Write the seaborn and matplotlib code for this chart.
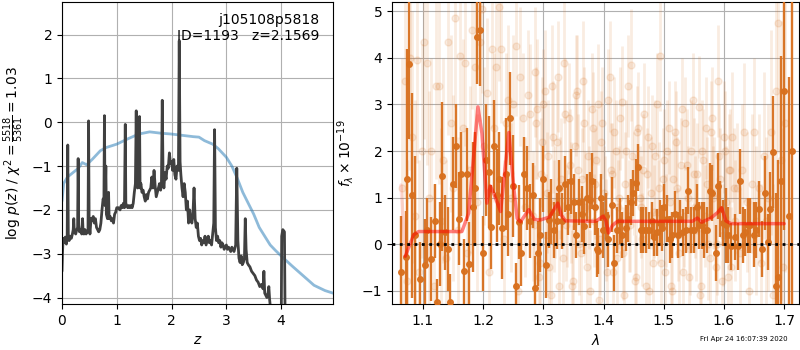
import matplotlib
matplotlib.use('Agg')
import matplotlib.pyplot as plt
import numpy as np
import seaborn as sns

# p(z) panel: redshift grid, log p(z) and scaled chi2 curve
z_pz = [0.00, 0.01, 0.02, 0.04, 0.06, 0.08, 0.095, 0.105, 0.115, 0.13, 0.15, 0.17,
        0.19, 0.205, 0.215, 0.225, 0.25, 0.27, 0.285, 0.295, 0.305, 0.32, 0.34, 0.36,
        0.375, 0.385, 0.40, 0.42, 0.44, 0.46, 0.475, 0.485, 0.495, 0.51, 0.53, 0.55,
        0.57, 0.59, 0.61, 0.63, 0.65, 0.67, 0.69, 0.71, 0.73, 0.75, 0.765, 0.775,
        0.785, 0.80, 0.81, 0.83, 0.85, 0.86, 0.88, 0.90, 0.92, 0.94, 0.96, 0.98,
        1.00, 1.03, 1.06, 1.08, 1.10, 1.12, 1.14, 1.155, 1.165, 1.18, 1.20, 1.22,
        1.24, 1.26, 1.28, 1.30, 1.32, 1.34, 1.355, 1.365, 1.38, 1.40, 1.415, 1.425,
        1.44, 1.46, 1.48, 1.50, 1.52, 1.54, 1.56, 1.58, 1.60, 1.62, 1.64, 1.66,
        1.68, 1.70, 1.72, 1.74, 1.76, 1.78, 1.80, 1.815, 1.83, 1.845, 1.86, 1.88,
        1.90, 1.92, 1.94, 1.96, 1.98, 2.00, 2.02, 2.04, 2.06, 2.08, 2.10, 2.125,
        2.14, 2.155, 2.17, 2.19, 2.21, 2.23, 2.25, 2.27, 2.29, 2.31, 2.33, 2.35,
        2.37, 2.39, 2.41, 2.43, 2.45, 2.47, 2.49, 2.51, 2.53, 2.55, 2.57, 2.59,
        2.61, 2.63, 2.65, 2.67, 2.69, 2.71, 2.73, 2.755, 2.77, 2.785, 2.80, 2.82,
        2.84, 2.86, 2.88, 2.90, 2.92, 2.94, 2.96, 2.98, 3.00, 3.02, 3.04, 3.06,
        3.08, 3.10, 3.12, 3.14, 3.17, 3.19, 3.21, 3.23, 3.25, 3.27, 3.29, 3.31,
        3.33, 3.345, 3.36, 3.38, 3.40, 3.43, 3.46, 3.49, 3.52, 3.55, 3.58, 3.61,
        3.64, 3.67, 3.685, 3.70, 3.72, 3.74, 3.76, 3.775, 3.79, 3.81, 3.85, 3.90,
        3.95, 4.00, 4.01, 4.03, 4.06, 4.075, 4.12, 4.20]
logp = [-3.40, -2.95, -2.65, -2.75, -2.62, -2.78, -2.60, -0.52, -2.55, -2.70, -2.60, -2.65,
        -2.55, -2.45, -2.20, -2.50, -2.55, -2.45, -2.40, -0.83, -2.35, -2.50, -2.45, -2.55,
        -2.20, -2.50, -2.55, -2.45, -2.55, -2.50, -2.45, 0.03, -2.30, -2.55, -2.20, -2.25,
        -2.15, -2.30, -2.20, -2.40, -2.45, -2.50, -2.45, -2.30, -2.00, -1.75, -1.80, 0.15,
        -1.90, -1.00, -2.10, -2.20, -1.60, -2.20, -2.15, -2.25, -2.20, -2.30, -2.10, -2.05,
        -1.95, -1.95, -2.00, -1.90, -1.95, -1.85, -1.95, -0.05, -1.85, -1.90, -1.95, -1.90,
        -1.95, -1.90, -1.95, -1.85, -1.60, -1.40, 0.26, -1.30, -1.50, -1.45, 0.13, -1.50,
        -1.40, -1.60, -1.55, -1.70, -1.80, -1.65, -1.75, -1.60, -1.55, -1.50, -1.25, -1.50,
        -1.10, -1.45, -1.70, -1.60, -1.50, -1.40, -1.55, -1.40, 0.50, -1.30, -1.50, -1.15,
        -1.30, -1.00, -1.05, -0.70, -0.95, -0.90, -1.10, -0.85, -1.20, -1.30, -1.00, -1.10,
        1.86, -0.90, -1.20, -1.50, -1.70, -1.40, -1.60, -2.00, -1.80, -2.30, -2.00, -2.20,
        -2.30, -2.10, -1.50, -2.20, -2.40, -2.30, -2.60, -2.70, -2.65, -2.80, -2.70, -2.75,
        -2.60, -2.80, -2.70, -2.60, -2.75, -2.70, -2.80, -2.50, -2.30, -0.17, -2.40, -2.70,
        -2.60, -2.75, -2.70, -2.85, -2.75, -2.80, -2.90, -2.85, -2.80, -2.90, -2.85, -2.90,
        -2.95, -2.85, -2.90, -2.95, -2.80, -1.05, -2.70, -3.10, -3.20, -3.05, -3.25, -3.20,
        -3.10, -2.20, -2.90, -3.20, -3.25, -3.30, -3.40, -3.45, -3.50, -3.60, -3.65, -3.75,
        -3.70, -3.80, -3.40, -3.90, -3.95, -4.00, -3.90, -3.75, -4.05, -4.30, -4.60, -4.80,
        -5.00, -5.00, -2.60, -2.45, -2.50, -5.00, -5.20, -5.50]

z_chi = [0.00, 0.03, 0.10, 0.20, 0.30, 0.37, 0.45, 0.55, 0.70, 0.80, 1.00, 1.20,
         1.40, 1.60, 1.80, 2.00, 2.20, 2.40, 2.50, 2.60, 2.75, 2.85, 3.00, 3.10,
         3.20, 3.30, 3.40, 3.50, 3.60, 3.70, 3.80, 3.90, 4.00, 4.20, 4.40, 4.60,
         4.80, 4.95]
chi_scaled = [-1.80, -1.40, -1.25, -1.15, -1.05, -0.92, -0.97, -0.85, -0.65, -0.58, -0.50, -0.38,
              -0.27, -0.22, -0.25, -0.27, -0.30, -0.33, -0.34, -0.42, -0.50, -0.60, -0.80, -1.00,
              -1.28, -1.60, -1.85, -2.10, -2.40, -2.60, -2.80, -2.93, -3.05, -3.28, -3.50, -3.72,
              -3.84, -3.90]

# spectrum panel: binned points (dark), unbinned points (faint), best-fit model
lam_bin = [1.0635, 1.0718, 1.0740, 1.0774, 1.0818, 1.0862, 1.0956, 1.1028, 1.1067, 1.1139,
           1.1194, 1.1233, 1.1277, 1.1316, 1.1371, 1.1415, 1.1454, 1.1504, 1.1548, 1.1592,
           1.1636, 1.1681, 1.1736, 1.1769, 1.1824, 1.1868, 1.1902, 1.1952, 1.2001, 1.2051,
           1.2090, 1.2134, 1.2173, 1.2222, 1.2261, 1.2316, 1.2372, 1.2410, 1.2449, 1.2499,
           1.2549, 1.2593, 1.2632, 1.2681, 1.2731, 1.2775, 1.2820, 1.2864, 1.2914, 1.2952,
           1.2997, 1.3046, 1.3090, 1.3135, 1.3179, 1.3223, 1.3268, 1.3312, 1.3367, 1.3417,
           1.3461, 1.3505, 1.3550, 1.3594, 1.3638, 1.3677, 1.3727, 1.3776, 1.3815, 1.3854,
           1.3893, 1.3915, 1.3954, 1.3993, 1.4037, 1.4081, 1.4136, 1.4175, 1.4219, 1.4269,
           1.4313, 1.4369, 1.4408, 1.4452, 1.4496, 1.4535, 1.4579, 1.4623, 1.4662, 1.4712,
           1.4756, 1.4800, 1.4844, 1.4889, 1.4933, 1.4977, 1.5010, 1.5055, 1.5099, 1.5143,
           1.5187, 1.5232, 1.5276, 1.5320, 1.5364, 1.5409, 1.5453, 1.5497, 1.5547, 1.5591,
           1.5629, 1.5674, 1.5718, 1.5762, 1.5806, 1.5867, 1.5900, 1.5939, 1.5983, 1.6028,
           1.6072, 1.6116, 1.6183, 1.6227, 1.6265, 1.6310, 1.6354, 1.6393, 1.6437, 1.6492,
           1.6536, 1.6575, 1.6625, 1.6680, 1.6724, 1.6763, 1.6813, 1.6857, 1.6901, 1.6940,
           1.6990, 1.7084, 1.7128]
flux_bin = [-0.60, -0.28, 1.40, 3.86, 1.05, 0.20, -0.75, -0.45, 0.30, -0.32,
            0.50, -1.25, 0.00, 1.46, 0.25, -0.10, -1.25, 1.30, 2.10, 0.55,
            1.50, -0.58, 1.50, -0.42, 0.80, 1.20, 4.45, 4.60, -0.20, 1.80,
            1.55, 0.36, 2.10, 1.05, 1.40, 0.35, 1.50, 0.65, 2.70, 1.25,
            -0.90, 0.48, -0.20, 1.50, 1.20, 0.50, 1.05, -0.95, -0.20, 0.20,
            1.40, -0.45, 0.52, 0.70, 0.30, 0.50, 1.20, 0.50, 1.30, 0.80,
            1.35, 0.90, 0.20, 0.90, 0.65, 0.38, 1.00, 0.95, 1.35, 0.80,
            -0.10, -0.15, 1.00, 0.30, 0.60, 0.10, 0.85, -0.40, 0.30, 0.50,
            0.20, 0.35, 0.55, 0.90, 1.10, 1.32, 1.65, 0.30, 0.30, 0.30,
            0.30, 0.50, 0.15, 0.25, 0.45, 0.35, 0.80, 0.55, 0.10, 0.20,
            0.65, 0.20, 0.55, 0.25, 0.30, 1.15, 0.30, 0.30, 0.80, 0.40,
            0.40, 0.30, 0.30, 1.15, 1.10, -0.20, 1.25, 0.75, 0.45, 0.40,
            0.20, -0.05, 0.15, -0.05, 1.35, 0.20, 0.25, 0.40, 0.40, 0.20,
            0.30, 0.75, -0.10, 1.10, 0.05, 0.75, 1.98, -0.90, -0.70, 1.35,
            3.30, 0.60, 2.00]
err_bin = [1.20, 1.00, 2.80, 1.60, 2.20, 1.70, 0.80, 1.00, 0.70, 0.90,
           0.80, 0.50, 0.90, 1.60, 0.80, 0.90, 0.60, 1.00, 0.90, 1.00,
           0.90, 0.70, 1.00, 0.90, 1.40, 1.20, 1.00, 1.20, 0.80, 1.20,
           1.20, 0.90, 1.00, 1.00, 1.00, 1.10, 1.20, 0.90, 1.00, 1.10,
           0.50, 0.80, 0.70, 0.80, 0.90, 0.80, 0.70, 0.70, 0.70, 0.80,
           0.70, 0.70, 0.60, 0.70, 0.60, 0.60, 0.60, 0.60, 0.60, 0.60,
           0.70, 0.60, 0.50, 0.50, 0.60, 0.60, 0.50, 0.60, 0.60, 0.60,
           0.60, 0.50, 0.50, 0.60, 0.50, 0.60, 0.60, 0.60, 0.50, 0.50,
           0.50, 0.50, 0.50, 0.50, 0.50, 0.50, 0.50, 0.50, 0.50, 0.50,
           0.40, 0.40, 0.40, 0.50, 0.50, 0.50, 0.50, 0.50, 0.50, 0.50,
           0.50, 0.50, 0.40, 0.50, 0.50, 0.50, 0.50, 0.50, 0.50, 0.50,
           0.50, 0.60, 0.50, 0.60, 0.60, 0.60, 0.70, 0.60, 0.50, 0.80,
           0.60, 0.50, 0.50, 0.50, 0.70, 0.60, 0.50, 0.60, 0.60, 0.70,
           0.60, 0.60, 0.60, 0.80, 0.60, 0.80, 1.20, 2.00, 2.50, 2.70,
           3.00, 3.00, 3.50]

lam_raw = [1.066, 1.070, 1.074, 1.078, 1.082, 1.086, 1.090, 1.094, 1.098, 1.102,
           1.106, 1.110, 1.114, 1.118, 1.122, 1.126, 1.130, 1.134, 1.138, 1.142,
           1.146, 1.150, 1.154, 1.158, 1.162, 1.166, 1.170, 1.174, 1.178, 1.182,
           1.186, 1.190, 1.194, 1.198, 1.202, 1.206, 1.210, 1.214, 1.218, 1.222,
           1.226, 1.230, 1.234, 1.238, 1.242, 1.246, 1.250, 1.254, 1.258, 1.262,
           1.266, 1.270, 1.274, 1.278, 1.282, 1.286, 1.290, 1.294, 1.298, 1.302,
           1.306, 1.310, 1.314, 1.318, 1.322, 1.326, 1.330, 1.334, 1.338, 1.342,
           1.346, 1.350, 1.354, 1.358, 1.362, 1.366, 1.370, 1.374, 1.378, 1.382,
           1.386, 1.390, 1.394, 1.398, 1.402, 1.406, 1.410, 1.414, 1.418, 1.422,
           1.426, 1.430, 1.434, 1.438, 1.442, 1.446, 1.450, 1.454, 1.458, 1.462,
           1.466, 1.470, 1.474, 1.478, 1.482, 1.486, 1.490, 1.494, 1.498, 1.502,
           1.506, 1.510, 1.514, 1.518, 1.522, 1.526, 1.530, 1.534, 1.538, 1.542,
           1.546, 1.550, 1.554, 1.558, 1.562, 1.566, 1.570, 1.574, 1.578, 1.582,
           1.586, 1.590, 1.594, 1.598, 1.602, 1.606, 1.610, 1.614, 1.618, 1.622,
           1.626, 1.630, 1.634, 1.638, 1.642, 1.646, 1.650, 1.654, 1.658, 1.662,
           1.666, 1.670, 1.674, 1.678, 1.682, 1.686, 1.690, 1.694, 1.698, 1.702]
flux_raw = [1.20, 3.50, -0.80, 4.00, 2.30, 0.60, 3.95, -0.60, 2.00, 4.35,
            3.90, 1.00, 2.00, -0.90, 3.40, 3.40, 0.50, 1.80, -0.30, 4.35,
            2.60, 1.20, 4.85, 0.30, 4.05, 2.50, 3.90, -0.20, 1.60, 4.60,
            3.80, 0.90, 4.35, 5.05, 2.10, 3.25, -0.60, 4.20, 2.50, 3.80,
            5.10, 4.20, 0.10, 2.60, 3.10, 1.00, 3.00, 4.25, -1.00, 3.60,
            2.70, 0.80, 3.20, 2.80, 0.60, 3.70, 2.90, -0.40, 2.20, 3.30,
            1.10, -0.50, 3.40, 0.60, 2.20, -0.90, 1.40, 3.90, 0.40, 2.70,
            0.90, -0.80, 3.20, 1.60, -0.20, 3.50, 0.80, 1.90, -1.00, 2.50,
            1.30, 3.00, 0.10, 2.60, 0.70, -0.60, 3.60, 1.50, 2.40, -0.30,
            1.00, 3.05, -1.10, 2.00, 0.60, 3.85, 1.30, -0.70, 2.50, 0.80,
            1.60, -0.90, 2.30, 1.10, -0.40, 1.90, 0.70, 4.05, 1.40, -0.60,
            2.00, 0.90, -1.00, 2.40, 1.20, -0.20, 2.90, 0.60, 1.70, -0.70,
            2.00, 1.50, 0.30, 2.95, -0.90, 1.80, 2.50, 0.00, 2.40, 1.00,
            -0.50, 3.50, 1.40, 0.20, 2.00, -0.70, 1.60, 2.30, 0.50, 1.20,
            -0.20, 1.60, 2.40, 0.90, -1.00, 1.30, 2.40, 0.50, 1.20, -0.40,
            1.90, 0.50, 1.00, 2.40, -1.10, 3.30, 4.75, 1.80, -0.50, 2.60]
err_raw = [2.8, 2.5, 2.6, 2.4, 2.7, 2.5, 2.2, 2.4, 2.3, 2.1,
           2.2, 2.3, 2.0, 2.2, 2.0, 2.1, 2.0, 2.2, 2.1, 2.0,
           1.9, 2.0, 1.9, 2.0, 1.8, 1.9, 1.8, 1.9, 1.8, 1.7,
           1.8, 1.9, 1.7, 1.8, 1.7, 1.6, 1.8, 1.7, 1.6, 1.7,
           1.6, 1.6, 1.7, 1.5, 1.6, 1.6, 1.5, 1.5, 1.6, 1.5,
           1.4, 1.5, 1.4, 1.5, 1.4, 1.4, 1.5, 1.4, 1.4, 1.3,
           1.3, 1.4, 1.3, 1.2, 1.3, 1.2, 1.3, 1.3, 1.2, 1.2,
           1.3, 1.2, 1.3, 1.2, 1.2, 1.3, 1.2, 1.2, 1.3, 1.2,
           1.2, 1.3, 1.2, 1.2, 1.2, 1.3, 1.2, 1.1, 1.2, 1.2,
           1.1, 1.2, 1.2, 1.1, 1.2, 1.2, 1.1, 1.2, 1.2, 1.1,
           1.2, 1.2, 1.1, 1.2, 1.1, 1.2, 1.1, 1.2, 1.1, 1.2,
           1.1, 1.1, 1.2, 1.1, 1.1, 1.2, 1.1, 1.1, 1.2, 1.1,
           1.1, 1.2, 1.1, 1.1, 1.2, 1.1, 1.1, 1.2, 1.1, 1.1,
           1.2, 1.2, 1.1, 1.1, 1.3, 1.3, 1.3, 1.4, 1.3, 1.4,
           1.4, 1.4, 1.5, 1.5, 1.5, 1.5, 1.6, 1.6, 1.6, 1.7,
           1.8, 1.8, 2.0, 2.2, 2.4, 2.6, 2.8, 3.0, 3.0, 3.2]

# second (overlapping) set of unbinned points, mid band only
lam_raw2 = [1.284, 1.288, 1.292, 1.296, 1.300, 1.304, 1.308, 1.312, 1.316, 1.320,
            1.324, 1.328, 1.332, 1.336, 1.340, 1.344, 1.348, 1.352, 1.356, 1.360,
            1.364, 1.368, 1.372, 1.376, 1.380, 1.384, 1.388, 1.392, 1.396, 1.400,
            1.404, 1.408, 1.412, 1.416, 1.420, 1.424, 1.428, 1.432, 1.436, 1.440,
            1.444, 1.448, 1.452, 1.456, 1.460, 1.464, 1.468, 1.472, 1.476, 1.480,
            1.484, 1.488, 1.492, 1.496, 1.500, 1.504, 1.508, 1.512, 1.516, 1.520,
            1.524, 1.528, 1.532, 1.536, 1.540, 1.544, 1.548, 1.552, 1.556, 1.560,
            1.564, 1.568, 1.572, 1.576, 1.580, 1.584, 1.588, 1.592, 1.596, 1.600,
            1.604, 1.608, 1.612, 1.616]
flux_raw2 = [0.4, 2.6, -0.7, 1.5, 3.0, 0.2, 1.9, -1.1, 2.3, 0.9,
             3.6, 1.2, -0.3, 2.8, 0.6, 1.7, -0.9, 2.1, 3.3, 0.0,
             1.4, 2.6, -0.5, 1.0, 2.9, 0.5, 1.8, -1.2, 2.2, 1.1,
             0.3, 3.1, 1.6, -0.6, 2.0, 0.8, 2.7, -0.2, 1.3, 3.4,
             0.4, 1.9, -0.8, 2.4, 1.0, 0.1, 2.8, 1.5, -1.0, 2.1,
             0.7, 3.0, 1.2, -0.4, 1.8, 0.5, 2.5, -0.9, 1.4, 2.2,
             0.2, 1.7, -0.6, 2.6, 1.0, -0.1, 3.1, 0.8, 1.5, -1.1,
             2.0, 0.6, 1.3, -0.3, 2.7, 1.1, 0.0, 1.9, -0.8, 2.3,
             0.9, 1.6, -0.5, 1.2]
err_raw2 = [1.3, 1.2, 1.3, 1.2, 1.2, 1.3, 1.2, 1.3, 1.2, 1.2,
            1.2, 1.1, 1.2, 1.2, 1.1, 1.2, 1.2, 1.1, 1.2, 1.1,
            1.1, 1.2, 1.1, 1.1, 1.2, 1.0, 1.1, 1.2, 1.1, 1.0,
            1.1, 1.1, 1.0, 1.1, 1.1, 1.0, 1.1, 1.0, 1.1, 1.1,
            1.0, 1.1, 1.0, 1.0, 1.1, 1.0, 1.1, 1.0, 1.0, 1.1,
            1.0, 1.1, 1.0, 1.0, 1.1, 1.0, 1.0, 1.1, 1.0, 1.1,
            1.0, 1.0, 1.1, 1.0, 1.1, 1.0, 1.0, 1.1, 1.1, 1.0,
            1.1, 1.1, 1.0, 1.1, 1.1, 1.2, 1.1, 1.1, 1.2, 1.2,
            1.2, 1.2, 1.3, 1.3]

lam_model = [1.0635, 1.0707, 1.0846, 1.0928, 1.1647, 1.1758, 1.1841, 1.1913, 1.1980, 1.2062,
             1.2118, 1.2173, 1.2290, 1.2427, 1.2510, 1.2565, 1.2620, 1.2759, 1.2850, 1.2952,
             1.3100, 1.3240, 1.3300, 1.3367, 1.3870, 1.3993, 1.4040, 1.4081, 1.4148, 1.4231,
             1.5475, 1.5558, 1.5630, 1.5784, 1.5895, 1.5961, 1.6033, 1.6116, 1.7001]
flux_model = [1.27, -0.26, 0.20, 0.27, 0.27, 0.66, 1.88, 2.95, 2.38, 0.88,
              1.25, 1.10, 0.70, 2.40, 1.20, 0.55, 0.48, 0.74, 0.53, 0.52,
              0.58, 0.88, 0.62, 0.50, 0.49, 0.60, 0.50, 0.24, 0.40, 0.49,
              0.49, 0.56, 0.47, 0.56, 0.68, 0.78, 0.50, 0.44, 0.44]

obj_name = 'j105108p5818'
obj_id = 1193
z_best = 2.1569
timestamp = 'Fri Apr 24 16:07:39 2020'

ORANGE = '#d8701e'

sns.set_style('ticks', {'axes.grid': True, 'grid.color': '#b0b0b0',
                        'grid.linestyle': '-', 'axes.edgecolor': 'black',
                        'text.color': 'black', 'axes.labelcolor': 'black',
                        'xtick.color': 'black', 'ytick.color': 'black'})
plt.rcParams['font.family'] = ['DejaVu Sans']
plt.rcParams['font.size'] = 10
plt.rcParams['grid.linewidth'] = 0.8

fig = plt.figure(figsize=(8, 3.5), dpi=100)
ax1 = fig.add_axes([0.0775, 0.131, 0.339, 0.863])
ax2 = fig.add_axes([0.49, 0.131, 0.509, 0.863])

# left: p(z)
sns.lineplot(x=z_chi, y=chi_scaled, ax=ax1, color='tab:blue', alpha=0.5,
             linewidth=2, sort=False, estimator=None)
sns.lineplot(x=z_pz, y=logp, ax=ax1, color='0.25', linewidth=2,
             sort=False, estimator=None)
ax1.set_xlim(0, 4.95)
ax1.set_ylim(-4.15, 2.74)
ax1.set_xticks([0, 1, 2, 3, 4])
ax1.set_yticks([-4, -3, -2, -1, 0, 1, 2])
ax1.set_xlabel('$z$')
ax1.set_ylabel(r'log $p(z)$ / $\chi^2=\frac{5518}{5361}=1.03$')
ax1.text(0.95, 0.965, '%s\nID=%d   z=%.4f' % (obj_name, obj_id, z_best),
         transform=ax1.transAxes, ha='right', va='top', fontsize=10)

# right: spectrum
for lam, flx, err in ((lam_raw, flux_raw, err_raw), (lam_raw2, flux_raw2, err_raw2)):
    ax2.errorbar(lam, flx, yerr=err, fmt='o', color=ORANGE, alpha=0.13,
                 markersize=5, elinewidth=2, capsize=0, zorder=2)
ax2.errorbar(lam_bin, flux_bin, yerr=err_bin, fmt='o', color=ORANGE, alpha=0.95,
             markersize=4, elinewidth=1.7, capsize=0, zorder=3)
sns.lineplot(x=lam_model[:2], y=flux_model[:2], ax=ax2, color='red', alpha=0.12,
             linewidth=2.5, sort=False, estimator=None, zorder=4)
sns.lineplot(x=lam_model[1:], y=flux_model[1:], ax=ax2, color='red', alpha=0.5,
             linewidth=2.5, sort=False, estimator=None, zorder=4)
ax2.axhline(0, color='black', linestyle=':', linewidth=2, zorder=5)
ax2.set_xlim(1.0486, 1.725)
ax2.set_ylim(-1.29, 5.2)
ax2.set_xticks([1.1, 1.2, 1.3, 1.4, 1.5, 1.6, 1.7])
ax2.set_yticks([-1, 0, 1, 2, 3, 4, 5])
ax2.set_xlabel(r'$\lambda$')
ax2.set_ylabel(r'$f_\lambda \times 10^{-19}$')

for ax in (ax1, ax2):
    ax.set_axisbelow(True)

fig.text(0.985, 0.031, timestamp, ha='right', va='center', fontsize=5)

fig.savefig('out.png', dpi=100)
